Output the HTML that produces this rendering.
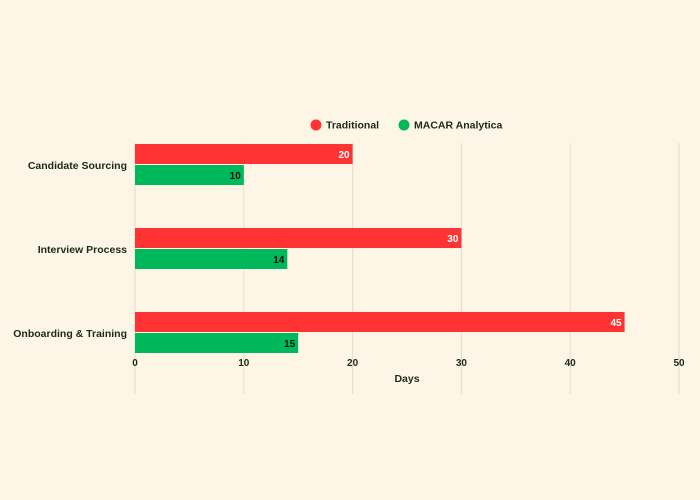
<!DOCTYPE html>
<html><head><meta charset="utf-8"><style>
html,body{margin:0;padding:0;background:#fdf5e5;}
svg{display:block;font-family:"Liberation Sans",sans-serif;font-weight:bold;}
</style></head><body>
<svg id="chart" width="700" height="500" xmlns="http://www.w3.org/2000/svg">
<rect width="700" height="500" fill="#fdf5e5"/>
<g id="grid"></g><g id="bars"></g><g id="labels"></g>
<g>
<g><circle cx="316" cy="125" r="5.5" fill="#ff3333"/><text x="326" y="128.5" font-size="10.5" fill="#1b2a1b">Traditional</text></g>
<g><circle cx="404" cy="125" r="5.5" fill="#00b85c"/><text x="414" y="128.5" font-size="10.5" fill="#1b2a1b">MACAR Analytica</text></g>
</g>
<text x="407" y="382" font-size="10.5" text-anchor="middle" fill="#1b2a1b">Days</text>
</svg>
<script>
const categories=["Candidate Sourcing","Interview Process","Onboarding & Training"];
const traditional=[20,30,45];
const macar=[10,14,15];
const ticks=[0,10,20,30,40,50];
const NS="http://www.w3.org/2000/svg";
const x0=135,x1=679,plotTop=143,bandH=84;
const xs=v=>x0+v/50*(x1-x0);
function mk(tag,attrs,parent,txt){const e=document.createElementNS(NS,tag);for(const k in attrs)e.setAttribute(k,attrs[k]);if(txt!=null)e.textContent=txt;parent.appendChild(e);return e;}
const grid=document.getElementById('grid'),bars=document.getElementById('bars'),labels=document.getElementById('labels');
ticks.forEach(t=>{
 const l=mk('line',{x1:xs(t),x2:xs(t),y1:plotTop,y2:plotTop+3*bandH-1,stroke:'#e6dccb','stroke-width':1},grid);
 
 
 const tx=mk('text',{x:xs(t),y:366,'font-size':10,'text-anchor':'middle',fill:'#1b2a1b'},labels,String(t));
 
 
});
categories.forEach((c,i)=>{
 const y=plotTop+i*bandH+1;
 const cl=mk('text',{x:127,y:y+25,'font-size':10.5,'text-anchor':'end',fill:'#1b2a1b'},labels,c);
 
 
 const r=mk('rect',{x:x0,y:y,width:xs(traditional[i])-x0,height:20,fill:'#ff3333'},bars);
 
 
 const rt=mk('text',{x:xs(traditional[i])-3,y:y+14,'font-size':10,'text-anchor':'end',fill:'#ffffff'},labels,String(traditional[i]));
 
 
 const g=mk('rect',{x:x0,y:y+21,width:xs(macar[i])-x0,height:20,fill:'#00b85c'},bars);
 
 
 const gt=mk('text',{x:xs(macar[i])-3,y:y+35,'font-size':10,'text-anchor':'end',fill:'#111'},labels,String(macar[i]));
 
 
});
</script>
</body></html>
